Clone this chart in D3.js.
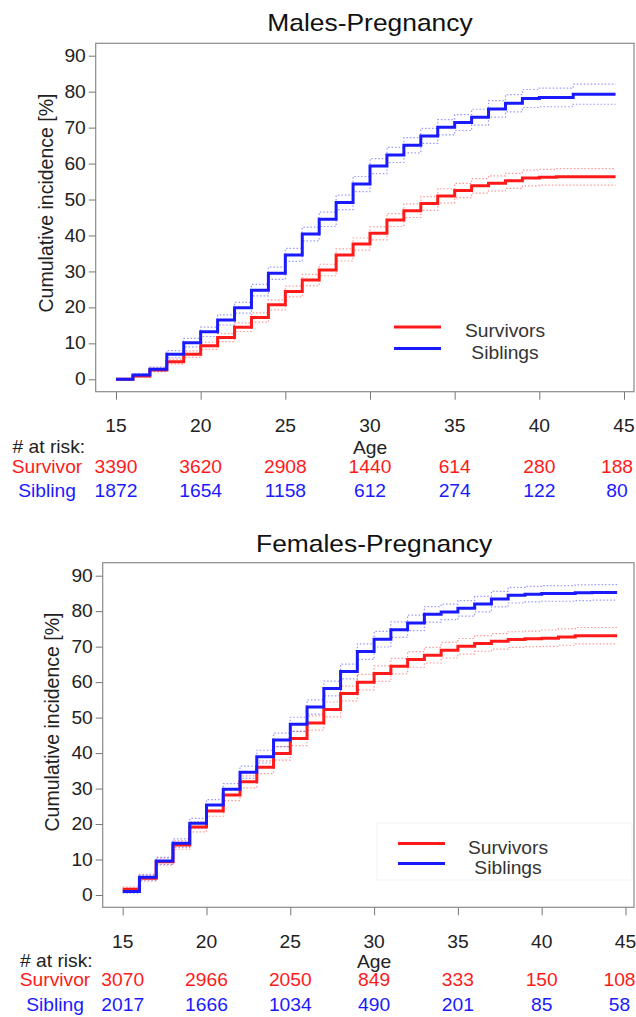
<!DOCTYPE html>
<html>
<head>
<meta charset="utf-8">
<script src="https://cdn.jsdelivr.net/npm/d3@7"></script>
<style>
body { margin: 0; background: #fff; }
text { font-family: "Liberation Sans", Arial, sans-serif; }
</style>
</head>
<body>
<svg id="chart" width="636" height="1017"></svg>
<script>
// ages at which each step starts, last step runs to lastAge
var ages = [15,16,17,18,19,20,21,22,23,24,25,26,27,28,29,30,31,32,33,34,35,36,37,38,39,40,41,42,43,44];
var lastAge = 44.5;
var xTicks = [15,20,25,30,35,40,45];
var yTicks = [0,10,20,30,40,50,60,70,80,90];

// males
var maleSurv   = [0,0.9,2.6,4.9,7.0,9.3,11.6,14.5,17.2,20.7,24.4,27.6,30.4,34.6,37.6,40.6,44.3,46.9,48.9,51.0,52.5,53.8,54.5,55.2,56.0,56.2,56.3,56.3,56.3,56.3];
var maleSurvHi = [0,1.2,3.1,5.6,7.9,10.3,12.7,15.7,18.5,22.1,25.9,29.2,32.0,36.3,39.3,42.4,46.1,48.8,50.8,53.0,54.5,55.8,56.6,57.3,58.2,58.4,58.6,58.6,58.6,58.6];
var maleSurvLo = [0,0.6,2.1,4.2,6.1,8.3,10.5,13.3,15.9,19.3,22.9,26.0,28.8,32.9,35.9,38.8,42.5,45.0,47.0,49.0,50.5,51.8,52.4,53.1,53.8,54.0,54.0,54.0,54.0,54.0];
var maleSib    = [0,1.2,2.8,7.0,10.2,13.2,16.5,19.9,24.8,29.5,34.6,40.4,44.5,49.2,54.3,59.3,62.4,65.1,67.7,70.1,71.4,72.9,75.2,76.8,78.1,78.4,78.4,79.3,79.3,79.3];
var maleSibHi  = [0,1.6,3.4,8.0,11.4,14.5,17.9,21.4,26.4,31.2,36.4,42.3,46.5,51.2,56.4,61.4,64.5,67.2,69.8,72.2,73.6,75.1,77.5,79.2,80.6,81.0,81.0,82.1,82.1,82.1];
var maleSibLo  = [0,0.8,2.2,6.0,9.0,11.9,15.1,18.4,23.2,27.8,32.8,38.5,42.5,47.2,52.2,57.2,60.3,63.0,65.6,68.0,69.2,70.7,72.9,74.4,75.6,75.8,75.8,76.5,76.5,76.5];
var maleRiskSurv = [3390,3620,2908,1440,614,280,188];
var maleRiskSib  = [1872,1654,1158,612,274,122,80];

// females
var femSurv   = [1.6,4.7,9.4,14.1,19.2,23.7,28.2,31.9,36.0,39.9,44.1,48.5,52.3,56.8,60.0,62.4,64.5,66.4,67.6,69.0,70.1,70.9,71.5,72.0,72.2,72.4,72.7,73.1,73.1,73.1];
var femSurvHi = [2.2,5.5,10.4,15.3,20.6,25.2,29.8,33.6,37.8,41.8,46.1,50.5,54.4,58.9,62.2,64.6,66.7,68.6,69.8,71.2,72.3,73.1,73.7,74.2,74.4,74.7,75.0,75.4,75.4,75.4];
var femSurvLo = [1.0,3.9,8.4,12.9,17.8,22.2,26.6,30.2,34.2,38.0,42.1,46.5,50.2,54.7,57.8,60.2,62.3,64.2,65.4,66.8,67.9,68.7,69.3,69.8,70.0,70.1,70.4,70.8,70.8,70.8];
var femSib    = [1.0,5.0,9.6,14.6,20.2,25.4,29.8,34.6,39.0,43.7,48.1,53.0,58.2,63.0,68.6,72.1,74.8,76.7,79.1,79.8,80.8,82.0,83.4,84.5,84.8,85.0,85.0,85.2,85.3,85.3];
var femSibHi  = [1.5,5.8,10.6,15.8,21.6,26.9,31.4,36.3,40.8,45.6,50.1,55.0,60.3,65.1,70.8,74.3,77.0,78.9,81.3,82.0,83.0,84.2,85.6,86.7,87.0,87.2,87.2,87.4,87.5,87.5];
var femSibLo  = [0.5,4.2,8.6,13.4,18.8,23.9,28.2,32.9,37.2,41.8,46.1,51.0,56.1,60.9,66.4,69.9,72.6,74.5,76.9,77.6,78.6,79.8,81.2,82.3,82.6,82.8,82.8,83.0,83.1,83.1];
var femRiskSurv = [3070,2966,2050,849,333,150,108];
var femRiskSib  = [2017,1666,1034,490,201,85,58];

var RED = "#ff1a1a", BLUE = "#1a1aff";
var SX = 1.1;     // the original text is a little wider than it is tall
var FS = 17.5;

var svg = d3.select("#chart");

function steps(vals) {
	var pts = ages.map(function(a, i) { return {age: a, v: vals[i]}; });
	pts.push({age: lastAge, v: vals[vals.length - 1]});
	return pts;
}

function label(g, x, y, s, size, fill, anchor) {
	return g.append("text")
		.attr("transform", "translate(" + x + "," + y + ") scale(" + SX + ",1)")
		.attr("text-anchor", anchor || "middle")
		.attr("font-size", size).attr("fill", fill)
		.text(s);
}

function panel(p) {
	var g = svg.append("g");
	var x = d3.scaleLinear().domain([15, 45]).range([p.x15, p.x45]);
	var y = d3.scaleLinear().domain([0, 90]).range([p.y0, p.y90]);

	label(g, x(30), p.titleY, p.title, 24, "#111");

	g.append("rect")
		.attr("x", p.left).attr("y", p.top)
		.attr("width", p.right - p.left).attr("height", p.bottom - p.top)
		.attr("fill", "none").attr("stroke", "#8a8a8a").attr("stroke-width", 1.2);

	var ya = g.append("g")
		.attr("transform", "translate(" + p.left + ",0)")
		.call(d3.axisLeft(y).tickValues(yTicks).tickSize(7).tickPadding(2));
	ya.select(".domain").remove();
	ya.selectAll("line").attr("stroke", "#777");
	ya.selectAll("text")
		.attr("transform", "scale(" + SX + ",1)")
		.attr("font-size", FS).attr("fill", "#222")
		.style("font-family", "'Liberation Sans', Arial, sans-serif");

	var xa = g.append("g")
		.attr("transform", "translate(0," + p.bottom + ")")
		.call(d3.axisBottom(x).tickValues(xTicks).tickSize(8).tickFormat(""));
	xa.select(".domain").remove();
	xa.selectAll("line").attr("stroke", "#777");

	xTicks.forEach(function(t) {
		label(g, x(t), p.tickLabelY, t, FS, "#222");
	});

	g.append("text")
		.attr("transform", "translate(" + p.yTitleX + "," + p.yTitleY + ") rotate(-90)")
		.attr("text-anchor", "middle")
		.attr("font-size", 19.5).attr("fill", "#222")
		.text("Cumulative incidence [%]");

	label(g, x(30), p.ageY, "Age", FS, "#222");
	label(g, p.atRiskX, p.atRiskY, "# at risk:", FS, "#222", "start");

	var line = d3.line()
		.x(function(d) { return x(d.age); })
		.y(function(d) { return y(d.v); })
		.curve(d3.curveStepAfter);

	// confidence bands (dotted)
	[[p.survLo, RED], [p.survHi, RED], [p.sibLo, BLUE], [p.sibHi, BLUE]].forEach(function(c) {
		g.append("path")
			.attr("d", line(steps(c[0])))
			.attr("fill", "none")
			.attr("stroke", c[1]).attr("stroke-opacity", 0.45)
			.attr("stroke-width", 1.2)
			.attr("stroke-dasharray", "1.5,2");
	});

	g.append("path").attr("d", line(steps(p.surv)))
		.attr("fill", "none").attr("stroke", RED).attr("stroke-width", 3);
	g.append("path").attr("d", line(steps(p.sib)))
		.attr("fill", "none").attr("stroke", BLUE).attr("stroke-width", 3);

	// legend
	if (p.legendBox) {
		g.append("rect")
			.attr("x", p.legendBox[0]).attr("y", p.legendBox[1])
			.attr("width", p.legendBox[2]).attr("height", p.legendBox[3])
			.attr("fill", "#fff").attr("stroke", "#f3f3f3");
	}
	var leg = [["Survivors", RED], ["Siblings", BLUE]];
	leg.forEach(function(l, i) {
		var ly = p.legendY + i * p.legendGap;
		g.append("line")
			.attr("x1", p.legendX).attr("x2", p.legendX + 47)
			.attr("y1", ly).attr("y2", ly)
			.attr("stroke", l[1]).attr("stroke-width", 3);
		label(g, p.legendTextX, ly + 10, l[0], FS, "#333");
	});

	// numbers at risk, last column pulled in a little as in the original
	var rows = [["Survivor", p.riskSurv, RED, p.survRowY], ["Sibling", p.riskSib, BLUE, p.sibRowY]];
	rows.forEach(function(r) {
		label(g, p.rowLabelX, r[3], r[0], FS, r[2]);
		r[1].forEach(function(d, i) {
			var cx = x(xTicks[i]) + (i === xTicks.length - 1 ? p.lastColShift : 0);
			label(g, cx, r[3], d, FS, r[2]);
		});
	});
}

panel({
	title: "Males-Pregnancy", titleY: 31,
	left: 95.7, right: 634, top: 43.3, bottom: 391.7,
	x15: 116, x45: 624, y0: 379.3, y90: 55.7,
	tickLabelY: 432, atRiskX: 12.5, atRiskY: 452.5, ageY: 454, survRowY: 472.5, sibRowY: 497,
	rowLabelX: 47, lastColShift: -7,
	yTitleX: 53, yTitleY: 203,
	legendX: 394, legendTextX: 505, legendY: 327, legendGap: 21.5,
	surv: maleSurv, survLo: maleSurvLo, survHi: maleSurvHi,
	sib: maleSib, sibLo: maleSibLo, sibHi: maleSibHi,
	riskSurv: maleRiskSurv, riskSib: maleRiskSib
});

panel({
	title: "Females-Pregnancy", titleY: 552,
	left: 102.7, right: 634, top: 562.7, bottom: 907.3,
	x15: 122.7, x45: 625.5, y0: 895, y90: 575.7,
	tickLabelY: 948, atRiskX: 20, atRiskY: 966.5, ageY: 968, survRowY: 986, sibRowY: 1010.5,
	rowLabelX: 55, lastColShift: -6,
	yTitleX: 59, yTitleY: 722,
	legendX: 398, legendTextX: 508, legendY: 843.5, legendGap: 20,
	legendBox: [377, 823, 255, 57],
	surv: femSurv, survLo: femSurvLo, survHi: femSurvHi,
	sib: femSib, sibLo: femSibLo, sibHi: femSibHi,
	riskSurv: femRiskSurv, riskSib: femRiskSib
});
</script>
</body>
</html>
